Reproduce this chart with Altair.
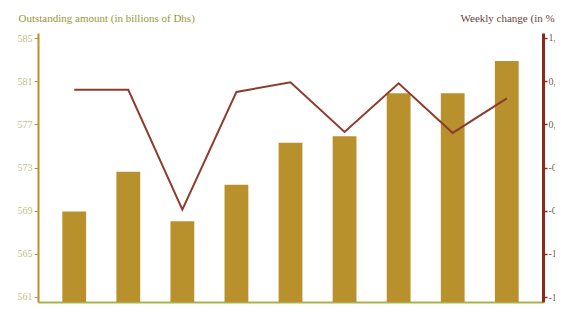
import altair as alt
import pandas as pd

weeks = ["06-may", "13-may", "20-may", "27-may", "03-jun", "10-jun", "17-jun", "24-jun", "01-jul"]
outstanding = [568.9, 572.6, 568.0, 571.4, 575.3, 575.9, 579.9, 579.9, 582.9]
weekly_change = [0.52, 0.52, -0.59, 0.50, 0.59, 0.13, 0.58, 0.12, 0.44]

df = pd.DataFrame({"week": weeks, "amount": outstanding, "change": weekly_change})

FONT = "Liberation Serif"

x = alt.X("week:N", sort=None, title=None,
          scale=alt.Scale(paddingInner=0.56, paddingOuter=0.45),
          axis=alt.Axis(labelAngle=0, labelFont=FONT, labelFontSize=10, labelColor="#8f9a2e",
                        domainColor="#a9b44e", domainWidth=2, ticks=False, labelPadding=2))

bars = alt.Chart(df).mark_bar(color="#b8902c").encode(
    x=x,
    y=alt.Y("amount:Q",
            scale=alt.Scale(domain=[560.5, 585.5], nice=False, zero=False),
            axis=alt.Axis(values=[561, 565, 569, 573, 577, 581, 585], grid=False,
                          title="Outstanding amount (in billions of Dhs)",
                          titleAngle=0, titleAlign="left", titleBaseline="middle",
                          titleX=-20, titleY=-15, titleFont=FONT, titleFontSize=11,
                          titleFontWeight="normal", titleColor="#a0943a",
                          labelFont=FONT, labelFontSize=10, labelColor="#c2c086",
                          domainColor="#b8922a", domainWidth=2, tickColor="#b8922a",
                          tickSize=4, tickWidth=1)),
    y2=alt.datum(560.5),
)

line = alt.Chart(df).mark_line(color="#8e3b2c", strokeWidth=2).encode(
    x=x,
    y=alt.Y("change:Q",
            scale=alt.Scale(domain=[-1.446, 1.046], nice=False, zero=False),
            axis=alt.Axis(orient="right", values=[-1.4, -1.0, -0.6, -0.2, 0.2, 0.6, 1.0],
                          format=".1f", labelExpr="replace(replace(datum.label, '.', ','), '\u2212', '-')",
                          grid=False, title="Weekly change (in %)",
                          titleAngle=0, titleAlign="left", titleBaseline="middle",
                          titleX=-83, titleY=-15, titleFont=FONT, titleFontSize=11,
                          titleFontWeight="normal", titleColor="#6e4535",
                          labelFont=FONT, labelFontSize=10, labelColor="#666666",
                          domainColor="#8b2a1a", domainWidth=3, tickColor="#8b2a1a",
                          tickSize=4, tickWidth=1.5, labelPadding=1)),
)

chart = alt.layer(bars, line).resolve_scale(y="independent").properties(
    width=505, height=269,
    autosize=alt.AutoSizeParams(type="none"),
    padding={"left": 30, "top": 25, "right": 12, "bottom": 3},
).configure_view(stroke=None)

chart.save("out.html", embed_options={"renderer": "svg", "actions": False})
